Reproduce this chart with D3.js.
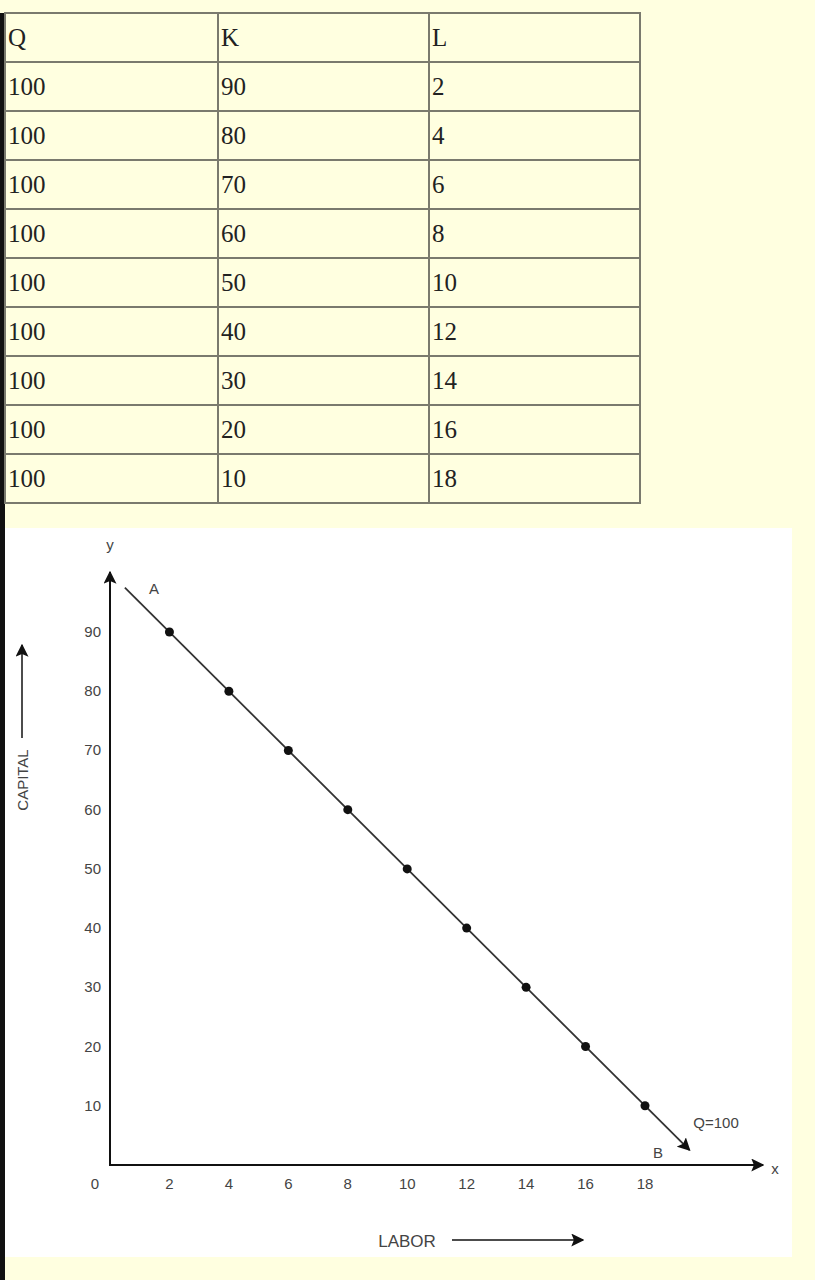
<!DOCTYPE html>
<html>
<head>
<meta charset="utf-8">
<script src="https://cdn.jsdelivr.net/npm/d3@7.9.0/dist/d3.min.js"></script>
<style>
  html, body { margin: 0; padding: 0; background: #ffffe0; }
  svg { display: block; }
</style>
</head>
<body>
<svg id="chart" width="815" height="1280"></svg>
<script>
const header = ['Q', 'K', 'L'];
const qValues = [100, 100, 100, 100, 100, 100, 100, 100, 100];
const kValues = [90, 80, 70, 60, 50, 40, 30, 20, 10];
const lValues = [2, 4, 6, 8, 10, 12, 14, 16, 18];
const xTicks = [2, 4, 6, 8, 10, 12, 14, 16, 18];
const yTicks = [10, 20, 30, 40, 50, 60, 70, 80, 90];

const svg = d3.select('#chart');

// arrow marker
const defs = svg.append('defs');
defs.append('marker')
  .attr('id', 'arrow')
  .attr('viewBox', '0 0 10 10')
  .attr('refX', 9).attr('refY', 5)
  .attr('markerWidth', 13).attr('markerHeight', 13)
  .attr('markerUnits', 'userSpaceOnUse')
  .attr('orient', 'auto')
  .append('path')
  .attr('d', 'M0,0 L10,5 L0,10 L2,5 Z')
  .attr('fill', '#111');

// left dark strip
svg.append('rect').attr('x', 0).attr('y', 13).attr('width', 5).attr('height', 1267).attr('fill', '#111');

// ---- table ----
const rows = [header].concat(qValues.map((q, i) => [q, kValues[i], lValues[i]]));
const colX = d3.scaleOrdinal().domain([0, 1, 2]).range([5, 218, 429]);
const colW = [213, 211, 211];
const rowY = d3.scaleLinear().domain([0, rows.length]).range([13, 503]);

const table = svg.append('g');
rows.forEach((row, r) => {
  row.forEach((cell, c) => {
    table.append('rect')
      .attr('x', colX(c)).attr('y', rowY(r))
      .attr('width', colW[c]).attr('height', rowY(r + 1) - rowY(r))
      .attr('fill', '#ffffe0')
      .attr('stroke', '#7a7a6e').attr('stroke-width', 2);
    table.append('text')
      .attr('x', colX(c) + 3).attr('y', rowY(r) + 33)
      .attr('font-family', 'Liberation Serif, serif')
      .attr('font-size', 25)
      .attr('fill', '#222')
      .text(cell);
  });
});

// ---- chart panel ----
svg.append('rect').attr('x', 5).attr('y', 528).attr('width', 787).attr('height', 729).attr('fill', '#fff');

const x = d3.scaleLinear().domain([0, 18]).range([110, 645]);
const y = d3.scaleLinear().domain([0, 90]).range([1165, 632]);

const font = 'Liberation Sans, Arial, sans-serif';
const g = svg.append('g');

// axes
g.append('line').attr('x1', x(0)).attr('y1', y(0) + 1).attr('x2', x(0)).attr('y2', 572)
  .attr('stroke', '#111').attr('stroke-width', 2).attr('marker-end', 'url(#arrow)');
g.append('line').attr('x1', x(0) - 1).attr('y1', y(0)).attr('x2', 763).attr('y2', y(0))
  .attr('stroke', '#111').attr('stroke-width', 2).attr('marker-end', 'url(#arrow)');

// ticks labels
g.selectAll('.yt').data(yTicks).join('text')
  .attr('x', 101).attr('y', d => y(d) + 5)
  .attr('text-anchor', 'end')
  .attr('font-family', font).attr('font-size', 15).attr('fill', '#444')
  .text(d => d);
g.selectAll('.xt').data(xTicks).join('text')
  .attr('x', d => x(d)).attr('y', 1189)
  .attr('text-anchor', 'middle')
  .attr('font-family', font).attr('font-size', 15).attr('fill', '#444')
  .text(d => d);
g.append('text').attr('x', 95).attr('y', 1189).attr('text-anchor', 'middle')
  .attr('font-family', font).attr('font-size', 15).attr('fill', '#444').text('0');

// isoquant line K = 100 - 5L, extended past the table values
const lineStart = [0.5, 97.5];
const lineEnd = [19.5, 2.5];
g.append('line')
  .attr('x1', x(lineStart[0])).attr('y1', y(lineStart[1]))
  .attr('x2', x(lineEnd[0])).attr('y2', y(lineEnd[1]))
  .attr('stroke', '#333').attr('stroke-width', 1.8).attr('marker-end', 'url(#arrow)');

// points
g.selectAll('.pt').data(lValues).join('circle')
  .attr('cx', d => x(d)).attr('cy', (d, i) => y(kValues[i]))
  .attr('r', 4.5).attr('fill', '#111');

// labels
const label = (tx, ty, t, size, anchor) => g.append('text')
  .attr('x', tx).attr('y', ty).attr('text-anchor', anchor || 'middle')
  .attr('font-family', font).attr('font-size', size || 15).attr('fill', '#444').text(t);
label(154, 594, 'A');
label(658, 1158, 'B');
label(716, 1128, 'Q=100');
label(110, 550, 'y');
label(775, 1174, 'x');
label(407, 1247, 'LABOR', 17);

// LABOR arrow
g.append('line').attr('x1', 452).attr('y1', 1240).attr('x2', 583).attr('y2', 1240)
  .attr('stroke', '#111').attr('stroke-width', 1.5).attr('marker-end', 'url(#arrow)');

// CAPITAL label
g.append('text')
  .attr('transform', 'translate(28,780) rotate(-90)')
  .attr('text-anchor', 'middle')
  .attr('font-family', font).attr('font-size', 15).attr('fill', '#444')
  .text('CAPITAL');
g.append('line').attr('x1', 22).attr('y1', 738).attr('x2', 22).attr('y2', 645)
  .attr('stroke', '#111').attr('stroke-width', 1.5).attr('marker-end', 'url(#arrow)');
</script>
</body>
</html>
